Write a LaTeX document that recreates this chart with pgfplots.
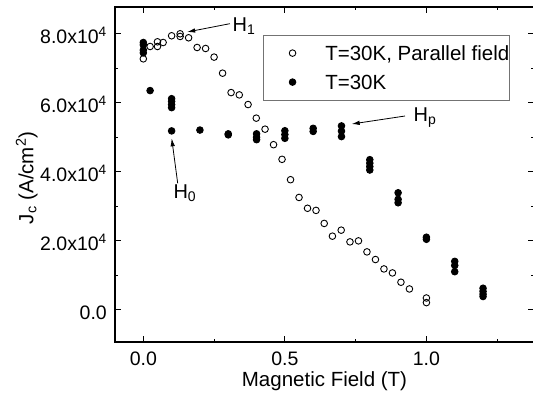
\documentclass[border=0pt]{standalone}
\usepackage{fontspec}
\setmainfont{Liberation Sans}
\usepackage{pgfplots}
\pgfplotsset{compat=1.18}
\usetikzlibrary{arrows.meta}
\begin{document}
\begin{tikzpicture}
\useasboundingbox (-115pt,-55pt) rectangle (418pt,342pt);
\begin{axis}[
  scale only axis, width=419pt, height=335pt,
  xmin=-0.1, xmax=1.38, ymin=-9400, ymax=87800,
  axis line style={line width=1.1pt},
  every tick/.style={black, line width=1pt},
  major tick length=6pt, minor tick length=3.5pt,
  xtick={0,0.5,1}, xticklabels={0.0,0.5,1.0},
  minor xtick={0.25,0.75,1.25},
  ytick={0,20000,40000,60000,80000},
  yticklabels={0.0, 2.0x10\textsuperscript{4}, 4.0x10\textsuperscript{4}, 6.0x10\textsuperscript{4}, 8.0x10\textsuperscript{4}},
  minor ytick={10000,30000,50000,70000},
  scaled y ticks=false,
  xticklabel style={font=\fontsize{19.5}{22}\selectfont, anchor=base, yshift=-23pt, inner sep=0pt},
  yticklabel style={font=\fontsize{19.5}{22}\selectfont, anchor=base east, xshift=-8pt, yshift=-10pt, inner sep=0pt},
  xlabel={Magnetic Field (T)},
  ylabel={J\textsubscript{c} (A/cm\textsuperscript{2})},
  xlabel style={font=\fontsize{20.5}{24}\selectfont, at={(axis description cs:0.5,-0.133)}, anchor=base},
  ylabel style={font=\fontsize{20.5}{24}\selectfont, at={(axis description cs:-0.195,0.49)}, anchor=base},
  legend style={at={(axis description cs:0.3532,0.917)}, anchor=north west, draw=black!55, line width=0.8pt,
    inner xsep=0pt, inner ysep=10.5pt, font=\fontsize{20.5}{24}\selectfont, row sep=14.2pt,
    nodes={inner sep=0pt, text height=14.8pt, text depth=0pt}},
  legend cell align=left,
  legend image code/.code={\path (0pt,0pt) (61pt,0pt); \draw[#1] plot coordinates {(28.7pt,0pt)};},
]
\addplot[only marks, mark=o, mark size=3.3pt, line width=0.9pt, black] coordinates {
(0.000,72760)(0.024,76340)(0.050,76340)(0.050,77700)(0.070,77500)(0.100,79450)
(0.130,80030)(0.130,79250)(0.160,78870)(0.190,76050)(0.220,75760)(0.250,73260)
(0.280,68600)(0.310,62970)(0.339,62300)(0.370,59500)(0.399,55550)(0.430,52350)
(0.460,47850)(0.490,43600)(0.520,37690)(0.550,32540)(0.580,29400)(0.610,28780)
(0.639,25000)(0.668,21310)(0.699,23050)(0.730,19650)(0.760,19940)(0.790,16750)
(0.820,14530)(0.850,11800)(0.880,10640)(0.910,7940)(0.940,5990)(1.000,3370)(1.000,2030)
};
\addlegendentry{T=30K, Parallel field\hspace{21pt}}
\addplot[only marks, mark=*, mark size=3.3pt, line width=0.9pt, black, mark options={fill=black}] coordinates {
(0,77500)(0,76800)(0,75300)(0,74500)
(0.024,63550)
(0.1,61200)(0.1,60400)(0.1,59500)(0.1,58600)(0.1,51850)
(0.2,52100)
(0.3,50700)(0.3,51000)
(0.4,51000)(0.4,50000)(0.4,49300)
(0.5,51900)(0.5,50800)(0.5,49700)
(0.6,52600)(0.6,51700)
(0.7,53300)(0.7,51800)(0.7,50200)
(0.8,43500)(0.8,42500)(0.8,41500)(0.8,40500)
(0.9,33900)(0.9,32000)(0.9,31000)
(1.0,21000)(1.0,20400)
(1.1,14000)(1.1,12800)(1.1,11000)
(1.2,6200)(1.2,5300)(1.2,4500)(1.2,3800)
};
\addlegendentry{T=30K}
\draw[-{Latex[length=8pt,width=4.5pt]}, line width=0.8pt] (axis cs:0.306,82960) -- (axis cs:0.155,80550);
\node[anchor=base west, inner sep=0pt, font=\fontsize{20}{22}\selectfont] at (axis cs:0.315,80670) {H\textsubscript{1}};
\draw[-{Latex[length=8pt,width=4.5pt]}, line width=0.8pt] (axis cs:0.1215,36620) -- (axis cs:0.1003,49700);
\node[anchor=base west, inner sep=0pt, font=\fontsize{20}{22}\selectfont] at (axis cs:0.106,32260) {H\textsubscript{0}};
\draw[-{Latex[length=8pt,width=4.5pt]}, line width=0.8pt] (axis cs:0.9244,56170) -- (axis cs:0.7361,53850);
\node[anchor=base west, inner sep=0pt, font=\fontsize{20}{22}\selectfont] at (axis cs:0.954,54520) {H\textsubscript{p}};
\end{axis}
\end{tikzpicture}
\end{document}
